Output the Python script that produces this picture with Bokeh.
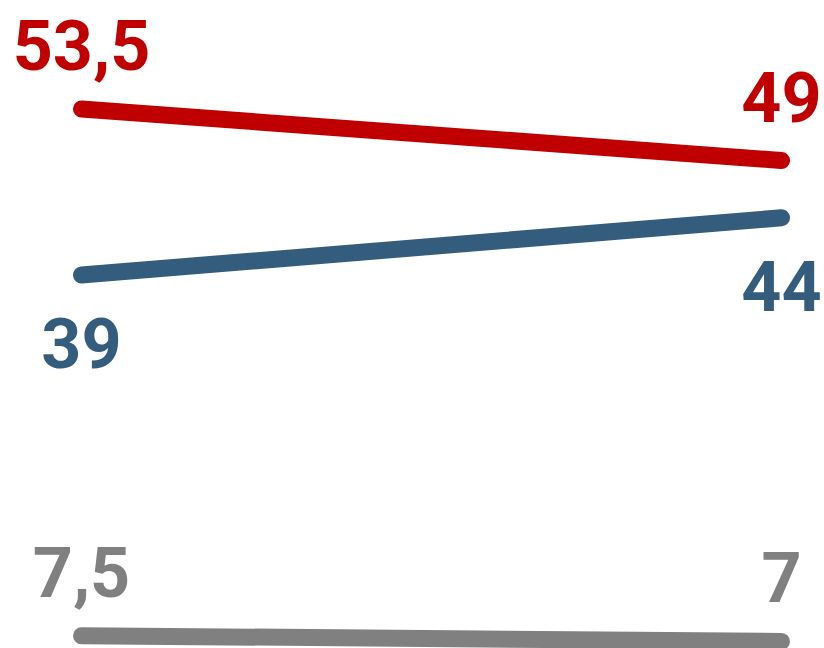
from bokeh.plotting import figure
from bokeh.models import ColumnDataSource, Range1d
from bokeh.core.properties import value
from bokeh.embed import file_html
from bokeh.resources import INLINE

# data
periods = [0, 1]
series_names = ["red", "blue", "gray"]
red_values = [53.5, 49]
blue_values = [39, 44]
gray_values = [7.5, 7]

colors = {"red": "#C00000", "blue": "#345C7D", "gray": "#808080"}
label_above = {"red": True, "blue": False, "gray": True}

p = figure(width=824, height=648, output_backend="svg", toolbar_location=None,
           x_range=Range1d(-0.11571, 1.06143), y_range=Range1d(6.382, 62.976),
           min_border=0, outline_line_color=None)
p.axis.visible = False
p.grid.visible = False
p.background_fill_color = "white"
p.border_fill_color = "white"

for name, vals in zip(series_names, [red_values, blue_values, gray_values]):
    c = colors[name]
    p.line(periods, vals, line_width=17, line_color=c, line_cap="round")
    labels = [("%g" % v).replace(".", ",") for v in vals]
    off = -64 if label_above[name] else 68
    src = ColumnDataSource(dict(x=periods, y=vals, t=labels))
    p.text(x="x", y="y", text="t", source=src, text_color=c,
           text_font=value("Roboto"), text_font_style="bold",
           text_font_size="70px", text_align="center",
           text_baseline="alphabetic", y_offset=off)

open("out.html", "w").write(file_html(p, INLINE))
